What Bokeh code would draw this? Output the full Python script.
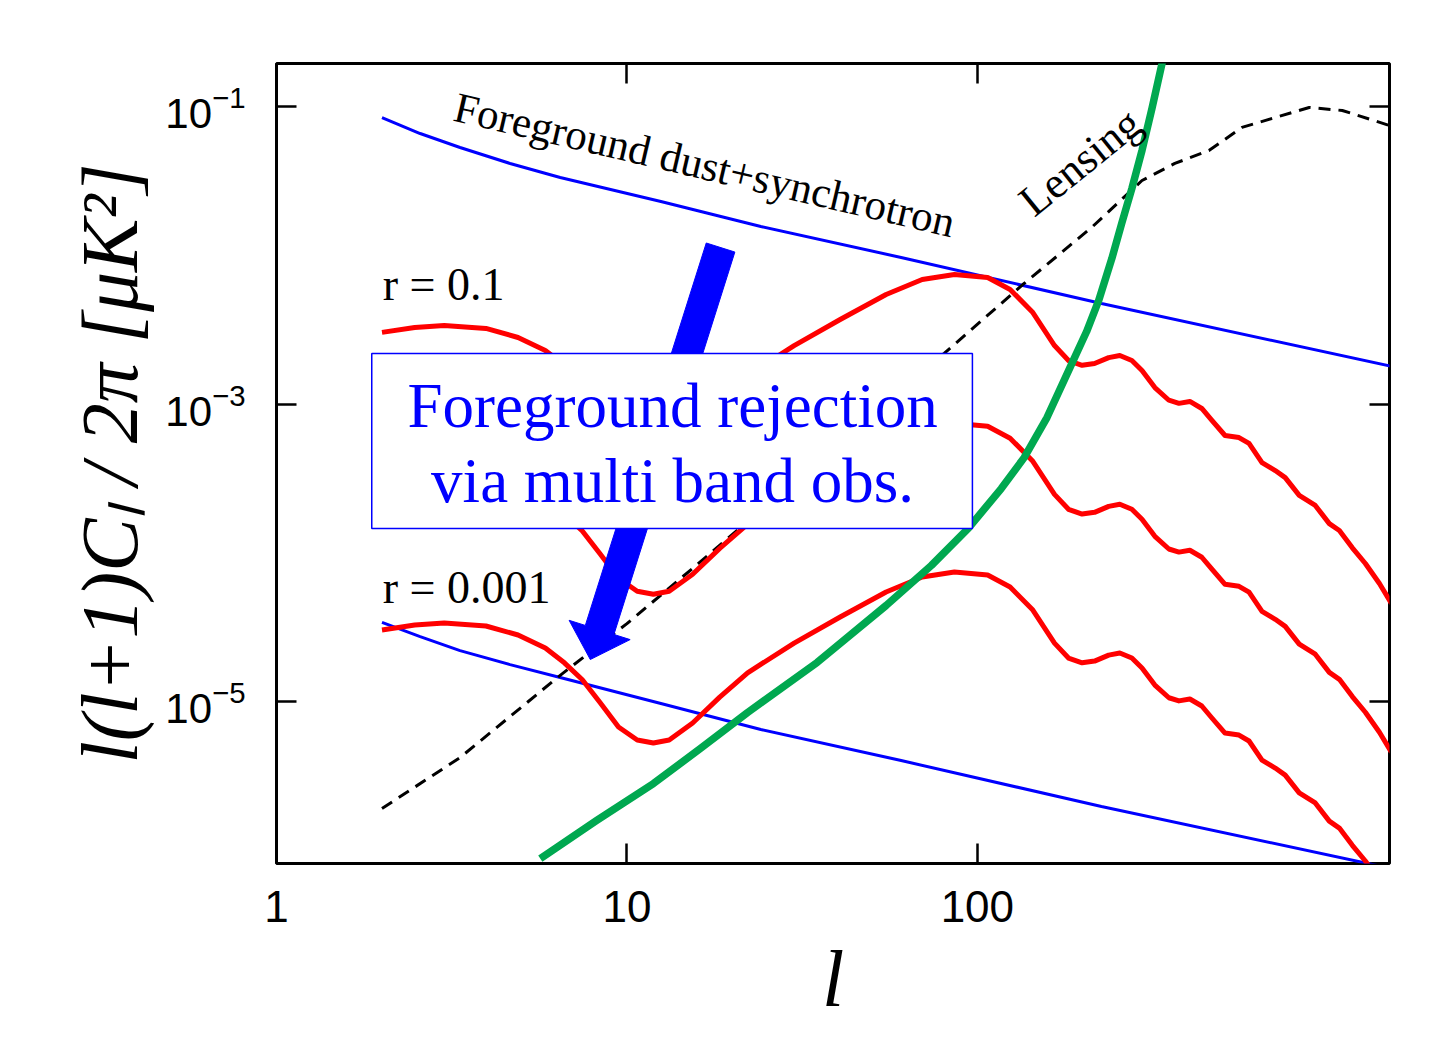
import math
from bokeh.plotting import figure
from bokeh.models import (LogAxis, FixedTicker, BasicTickFormatter, BoxAnnotation, Label)
from bokeh.embed import file_html
from bokeh.resources import INLINE

# ---------------- data ----------------
# multipoles for the primordial tensor B-mode curves
ell_tensor = [2.00, 2.48, 3.01, 3.96, 4.89, 5.85, 6.63, 7.46, 8.40, 9.46,
              10.7, 11.9, 13.2, 15.4, 18.4, 22.1, 30.0, 40.6, 54.9, 69.6,
              86.0, 107, 124, 144, 166, 182, 199, 216, 237, 255,
              276, 295, 321, 352, 376, 404, 437, 467, 509, 558,
              596, 649, 708, 756, 829, 921, 1010, 1079, 1175, 1280,
              1404, 1519]
bb_r0p1 = [3.03e-3, 3.27e-3, 3.37e-3, 3.22e-3, 2.80e-3, 2.29e-3, 1.82e-3, 1.40e-3, 9.77e-4, 6.74e-4,
           5.51e-4, 5.26e-4, 5.51e-4, 7.17e-4, 1.07e-3, 1.56e-3, 2.47e-3, 3.70e-3, 5.45e-3, 6.87e-3,
           7.43e-3, 7.09e-3, 5.89e-3, 4.12e-3, 2.47e-3, 1.96e-3, 1.82e-3, 1.87e-3, 2.05e-3, 2.12e-3,
           1.96e-3, 1.68e-3, 1.29e-3, 1.06e-3, 1.01e-3, 1.04e-3, 9.33e-4, 7.75e-4, 6.14e-4, 5.95e-4,
           5.43e-4, 4.04e-4, 3.57e-4, 3.20e-4, 2.43e-4, 2.08e-4, 1.57e-4, 1.41e-4, 1.08e-4, 8.47e-5,
           6.21e-5, 4.56e-5]
bb_r0p01 = [3.03e-4, 3.27e-4, 3.37e-4, 3.22e-4, 2.80e-4, 2.29e-4, 1.82e-4, 1.40e-4, 9.77e-5, 6.74e-5,
            5.51e-5, 5.26e-5, 5.51e-5, 7.17e-5, 1.07e-4, 1.56e-4, 2.47e-4, 3.70e-4, 5.45e-4, 6.87e-4,
            7.43e-4, 7.09e-4, 5.89e-4, 4.12e-4, 2.47e-4, 1.96e-4, 1.82e-4, 1.87e-4, 2.05e-4, 2.12e-4,
            1.96e-4, 1.68e-4, 1.29e-4, 1.06e-4, 1.01e-4, 1.04e-4, 9.33e-5, 7.75e-5, 6.14e-5, 5.95e-5,
            5.43e-5, 4.04e-5, 3.57e-5, 3.20e-5, 2.43e-5, 2.08e-5, 1.57e-5, 1.41e-5, 1.08e-5, 8.47e-6,
            6.21e-6, 4.56e-6]
bb_r0p001 = [3.03e-5, 3.27e-5, 3.37e-5, 3.22e-5, 2.80e-5, 2.29e-5, 1.82e-5, 1.40e-5, 9.77e-6, 6.74e-6,
             5.51e-6, 5.26e-6, 5.51e-6, 7.17e-6, 1.07e-5, 1.56e-5, 2.47e-5, 3.70e-5, 5.45e-5, 6.87e-5,
             7.43e-5, 7.09e-5, 5.89e-5, 4.12e-5, 2.47e-5, 1.96e-5, 1.82e-5, 1.87e-5, 2.05e-5, 2.12e-5,
             1.96e-5, 1.68e-5, 1.29e-5, 1.06e-5, 1.01e-5, 1.04e-5, 9.33e-6, 7.75e-6, 6.14e-6, 5.95e-6,
             5.43e-6, 4.04e-6, 3.57e-6, 3.20e-6, 2.43e-6, 2.08e-6, 1.57e-6, 1.41e-6, 1.08e-6, 8.47e-7,
             6.21e-7, 4.56e-7]

# foreground dust+synchrotron, before and after multi-band rejection
ell_fg = [2.00, 2.57, 3.34, 4.64, 6.45, 12.5, 24.1, 60.6, 226, 1519]
fg_dust_sync = [8.43e-2, 6.58e-2, 5.30e-2, 4.14e-2, 3.33e-2, 2.30e-2, 1.56e-2, 9.66e-3, 4.74e-3, 1.79e-3]
fg_residual = [3.40e-5, 2.73e-5, 2.20e-5, 1.77e-5, 1.45e-5, 9.69e-6, 6.48e-6, 4.01e-6, 1.97e-6, 7.54e-7]

# lensing B-mode
ell_lens = [2.00, 3.34, 6.45, 10.0, 15.5, 80.4, 136, 212, 295, 366, 458, 569, 708,
            885, 1100, 1500]
bb_lens = [1.91e-6, 4.20e-6, 1.50e-5, 3.34e-5, 7.96e-5, 2.19e-3, 6.46e-3, 1.54e-2,
           3.18e-2, 4.14e-2, 5.06e-2, 7.23e-2, 8.43e-2, 9.85e-2, 9.40e-2, 7.45e-2]

# instrumental noise (green)
ell_noise = [5.66, 8.18, 11.9, 16.2, 22.1, 34.9, 54.9, 73.9, 94.2, 117, 136, 158, 186,
             205, 222, 242, 258, 276, 295, 315, 343]
noise = [8.80e-7, 1.58e-6, 2.81e-6, 4.83e-6, 8.44e-6, 1.83e-5, 4.42e-5, 8.21e-5, 1.46e-4,
         2.70e-4, 4.36e-4, 8.11e-4, 1.87e-3, 3.07e-3, 4.97e-3, 9.51e-3, 1.63e-2, 2.81e-2,
         5.06e-2, 9.70e-2, 0.238]

x_ticks = [1, 10, 100]
y_ticks = [1e-5, 1e-3, 1e-1]

# ---------------- figure ----------------
X0, X1 = 1.0, 1500.0
Y0, Y1 = 8.15e-7, 0.1945
W, H = 1441, 1038
BL, BT = 276, 63
FW, FH = 1113, 800
BR = W - BL - FW
BB = H - BT - FH

p = figure(width=W, height=H, x_axis_type="log", y_axis_type="log",
           x_range=(X0, X1), y_range=(Y0, Y1),
           output_backend="svg", toolbar_location=None,
           min_border_left=BL, min_border_right=BR,
           min_border_top=BT, min_border_bottom=BB)
p.background_fill_color = "white"
p.border_fill_color = "white"
p.xgrid.visible = False
p.ygrid.visible = False
p.outline_line_color = "black"
p.outline_line_width = 3

TICK_FONT = "Liberation Sans"
SERIF = "Liberation Serif"

def style_axis(ax, ticks):
    ax.ticker = FixedTicker(ticks=ticks)
    ax.major_tick_in = 20
    ax.major_tick_out = 0
    ax.major_tick_line_width = 2.5
    ax.major_tick_line_color = "black"
    ax.minor_tick_line_color = None
    ax.axis_line_color = None

xa = p.xaxis[0]
style_axis(xa, x_ticks)
xa.formatter = BasicTickFormatter()
xa.major_label_text_font = TICK_FONT
xa.major_label_text_font_size = "44px"
xa.major_label_text_color = "black"
xa.major_label_standoff = 27
xa.axis_label = "l"
xa.axis_label_text_font = SERIF
xa.axis_label_text_font_style = "italic"
xa.axis_label_text_font_size = "80px"
xa.axis_label_text_color = "black"
xa.axis_label_standoff = 10

ya = p.yaxis[0]
style_axis(ya, y_ticks)
ya.major_label_text_font = TICK_FONT
ya.major_label_text_font_size = "42px"
ya.major_label_text_color = "black"
ya.major_label_standoff = 31
ya.axis_label = "l(l+1)Cₗ / 2π [μK²]"
ya.axis_label_text_font = SERIF
ya.axis_label_text_font_style = "italic"
ya.axis_label_text_font_size = "80px"
ya.axis_label_text_color = "black"
ya.axis_label_standoff = 8

top_ax = LogAxis()
style_axis(top_ax, x_ticks)
top_ax.major_label_text_color = None
top_ax.major_label_standoff = 0
p.add_layout(top_ax, "above")

right_ax = LogAxis()
style_axis(right_ax, y_ticks)
right_ax.major_label_text_color = None
right_ax.major_label_standoff = 0
p.add_layout(right_ax, "right")

# ---------------- curves ----------------
p.line(ell_fg, fg_dust_sync, line_color="#0000FF", line_width=3)
p.line(ell_fg, fg_residual, line_color="#0000FF", line_width=3)
p.line(ell_lens, bb_lens, line_color="black", line_width=3, line_dash="12 8")
p.line(ell_tensor, bb_r0p1, line_color="#FF0000", line_width=5, line_join="round")
p.line(ell_tensor, bb_r0p01, line_color="#FF0000", line_width=5, line_join="round")
p.line(ell_tensor, bb_r0p001, line_color="#FF0000", line_width=5, line_join="round")
p.line(ell_noise, noise, line_color="#00A850", line_width=7.5, line_join="round")

# ---------------- thick arrow (annotation) ----------------
arrow_tail = (18.5, 1.127e-2)
arrow_tip = (7.86, 1.916e-5)
shaft_half, head_len, head_half = 15, 31, 32
kx = FW / (math.log10(X1) - math.log10(X0))
ky = FH / (math.log10(Y1) - math.log10(Y0))

def to_px(l, v):
    return math.log10(l) * kx, math.log10(v) * ky

def from_px(X, Y):
    return 10 ** (X / kx), 10 ** (Y / ky)

tx, ty = to_px(*arrow_tail)
hx, hy = to_px(*arrow_tip)
L = math.hypot(hx - tx, hy - ty)
ux, uy = (hx - tx) / L, (hy - ty) / L
nx, ny = -uy, ux
bx, by = hx - ux * head_len, hy - uy * head_len
poly = [(tx + nx * shaft_half, ty + ny * shaft_half),
        (bx + nx * shaft_half, by + ny * shaft_half),
        (bx + nx * head_half, by + ny * head_half),
        (hx, hy),
        (bx - nx * head_half, by - ny * head_half),
        (bx - nx * shaft_half, by - ny * shaft_half),
        (tx - nx * shaft_half, ty - ny * shaft_half)]
pts = [from_px(X, Y) for X, Y in poly]
p.patch([q[0] for q in pts], [q[1] for q in pts], fill_color="#0000FF",
        line_color="#0000FF", line_width=1)

# ---------------- box with text ----------------
box = BoxAnnotation(left=1.87, right=96.8, bottom=1.456e-4, top=2.185e-3,
                    fill_color="white", fill_alpha=1.0,
                    line_color="#0000FF", line_alpha=1.0, line_width=1.5)
p.add_layout(box)

def add_label(text, x, y, size, color="black", angle=0.0, align="left"):
    p.add_layout(Label(x=x, y=y, text=text, text_font=SERIF,
                       text_font_size=f"{size}px", text_color=color, angle=angle,
                       text_align=align, text_baseline="middle"))

add_label("Foreground rejection", 13.5, 9.68e-4, 63, color="#0000FF", align="center")
add_label("via multi band obs.", 13.5, 3.03e-4, 63, color="#0000FF", align="center")
add_label("Foreground dust+synchrotron", 3.23, 0.1003, 43, angle=-0.230)
add_label("Lensing", 136.8, 0.02117, 44, angle=0.68)
add_label("r = 0.1", 2.01, 6.36e-3, 46)
add_label("r = 0.001", 2.01, 5.84e-5, 46)

open("out.html", "w").write(file_html(p, INLINE))
